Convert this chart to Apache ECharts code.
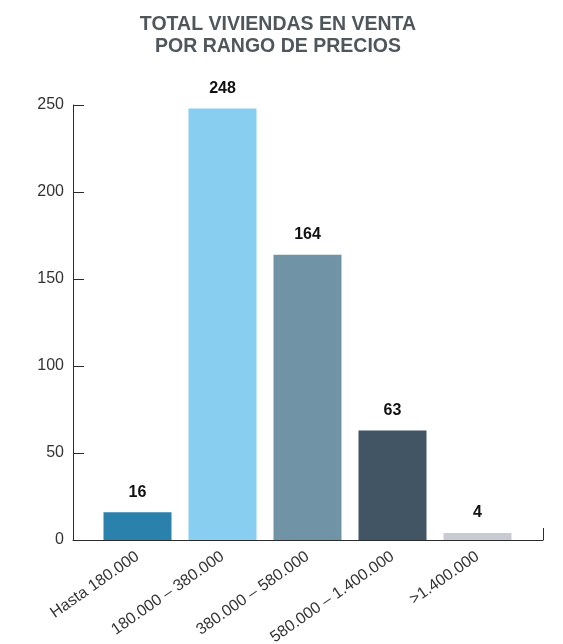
<!DOCTYPE html>
<html>
<head>
<meta charset="utf-8">
<script src="https://cdn.jsdelivr.net/npm/echarts@6/dist/echarts.min.js"></script>
<style>
  html, body { margin: 0; padding: 0; background: #fff; }
  #main { width: 563px; height: 644px; }
</style>
</head>
<body>
<div id="main"></div>
<script>
// datos
var categories = ['Hasta 180.000', '180.000 – 380.000', '380.000 – 580.000', '580.000 – 1.400.000', '>1.400.000'];
var values = [16, 248, 164, 63, 4];
var barColors = ['#2a81ac', '#88cef1', '#7193a6', '#425564', '#c8cbd1'];
var yTicks = [0, 50, 100, 150, 200, 250];

var font = '"Liberation Sans", Arial, sans-serif';
var axisColor = '#2b2b2b';

var myChart = echarts.init(document.getElementById('main'));
myChart.setOption({
  animation: false,
  title: {
    text: 'TOTAL VIVIENDAS EN VENTA\nPOR RANGO DE PRECIOS',
    left: 273,
    top: 9,
    textAlign: 'center',
    textStyle: {
      fontFamily: font,
      fontSize: 19.5,
      fontWeight: 'bold',
      color: '#4f565c',
      lineHeight: 22
    }
  },
  grid: [
    { left: 95, right: 43, top: 105, bottom: 104, outerBoundsMode: 'none' },
    // solo para la linea del eje x, que es mas larga que las barras
    { left: 73, right: 20, top: 105, bottom: 104, outerBoundsMode: 'none' }
  ],
  xAxis: [
    {
      type: 'category',
      gridIndex: 0,
      data: categories,
      axisLine: { show: false },
      axisTick: { show: false },
      axisLabel: {
        interval: 0,
        rotate: 35,
        margin: 15,
        fontFamily: font,
        fontSize: 16,
        color: '#333'
      }
    },
    {
      type: 'value',
      gridIndex: 1,
      min: 0,
      max: 1,
      interval: 1,
      axisLine: { show: true, lineStyle: { color: axisColor, width: 1 } },
      axisTick: { show: true, inside: true, length: 12, lineStyle: { color: axisColor } },
      axisLabel: { show: false },
      splitLine: { show: false }
    }
  ],
  yAxis: [
    {
      type: 'value',
      gridIndex: 0,
      min: yTicks[0],
      max: yTicks[yTicks.length - 1],
      interval: 50,
      offset: 22,
      axisLine: { show: true, lineStyle: { color: axisColor, width: 1 } },
      axisTick: { show: true, inside: true, length: 11, lineStyle: { color: axisColor } },
      axisLabel: {
        margin: 9,
        fontFamily: font,
        fontSize: 16,
        color: '#333'
      },
      splitLine: { show: false }
    },
    {
      type: 'value',
      gridIndex: 1,
      min: 0,
      max: 1,
      show: false
    }
  ],
  series: [
    {
      type: 'bar',
      xAxisIndex: 0,
      yAxisIndex: 0,
      barWidth: 68,
      data: values.map(function (v, i) {
        return { value: v, itemStyle: { color: barColors[i] } };
      }),
      label: {
        show: true,
        position: 'top',
        distance: 12,
        fontFamily: font,
        fontSize: 16,
        fontWeight: 'bold',
        color: '#111'
      }
    }
  ]
});
</script>
</body>
</html>
